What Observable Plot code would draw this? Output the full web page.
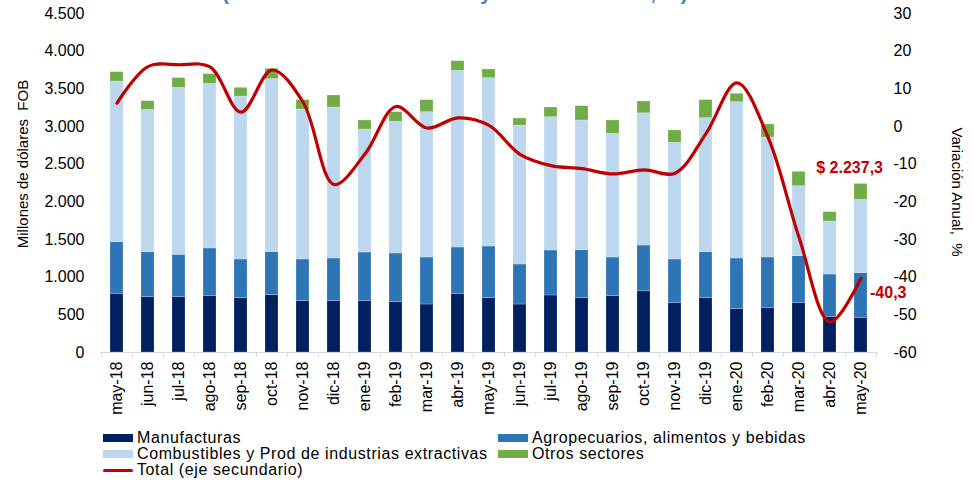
<!DOCTYPE html>
<html><head><meta charset="utf-8">
<script src="https://cdn.jsdelivr.net/npm/d3@7"></script>
<script src="https://cdn.jsdelivr.net/npm/@observablehq/plot@0.6"></script>
<style>
body{margin:0;background:#fff;font-family:"Liberation Sans",Arial,sans-serif;overflow:hidden}
#wrap{position:relative;width:973px;height:481px;overflow:hidden}
#chart{position:absolute;left:0;top:0}
#title{position:absolute;left:222px;top:-18px;font-size:21px;line-height:21px;font-weight:bold;color:#4a7ebb;white-space:pre}
.axt{position:absolute;font-size:15px;line-height:15px;color:#000;white-space:pre}
#ylab{left:22px;top:164px;transform:translate(-50%,-50%) rotate(-90deg)}
#y2lab{left:957px;top:192px;transform:translate(-50%,-50%) rotate(90deg)}
#legend{position:absolute;left:103px;top:430px;display:grid;grid-template-columns:395px auto;font-size:16px;line-height:16px;letter-spacing:0.6px;color:#000}
.li{display:flex;align-items:center;white-space:nowrap;height:16px}
.sw{width:30px;height:8px;margin-right:4px;flex:none}
.ln{width:30px;height:3px;margin-right:4px;flex:none;border-radius:2px}
</style></head><body>
<div id="wrap">
 <div id="chart"></div>
 <div id="title">(Millones de dólares FOB y variación anual, %)</div>
 <div id="ylab" class="axt">Millones de dólares  FOB</div>
 <div id="y2lab" class="axt">Variación Anual,  %</div>
 <div id="legend"></div>
</div>
<script>
const months = ["may-18","jun-18","jul-18","ago-18","sep-18","oct-18","nov-18","dic-18","ene-19","feb-19","mar-19","abr-19","may-19","jun-19","jul-19","ago-19","sep-19","oct-19","nov-19","dic-19","ene-20","feb-20","mar-20","abr-20","may-20"];
const manufacturas = [779,735,735,748,721,761,681,681,681,668,637,779,721,637,757,721,748,812,655,721,575,593,655,469,460];
const agropecuarios = [686,597,562,633,514,571,554,567,647,646,624,615,686,531,597,637,513,608,580,611,673,668,624,566,593];
const combustibles = [2132,1889,2216,2186,2163,2297,1991,2004,1632,1748,1929,2345,2235,1845,1770,1722,1642,1755,1548,1779,2075,1593,929,704,974];
const otros = [124,115,129,128,115,137,124,160,120,128,160,128,115,93,128,190,177,157,164,239,111,173,190,124,210];
const variacion = [6.2,15.9,16.4,15.8,3.8,15.0,6.5,-15.4,-7.3,5.3,-0.4,2.3,0.3,-7.4,-10.4,-11.2,-12.6,-11.5,-12.4,-1.9,11.6,-2.8,-29.4,-51.9,-40.3];
const seriesNames = ["Manufacturas","Agropecuarios, alimentos y bebidas","Combustibles y Prod de industrias extractivas","Otros sectores"];
const seriesColors = ["#002060","#2E75B6","#BDD7EE","#70AD47"];
const lineName = "Total (eje secundario)";
const lineColor = "#C00000";
const leftTicks = [0,500,1000,1500,2000,2500,3000,3500,4000,4500];
const rightTicks = [-60,-50,-40,-30,-20,-10,0,10,20,30];
const totalLabel = "$ 2.237,3";
const varLabel = "-40,3";

const leftDomain = [0,4500], rightDomain = [-60,30];
const toPrimary = p => leftDomain[0] + (p - rightDomain[0]) / (rightDomain[1]-rightDomain[0]) * (leftDomain[1]-leftDomain[0]);
const fromPrimary = v => rightDomain[0] + (v - leftDomain[0]) / (leftDomain[1]-leftDomain[0]) * (rightDomain[1]-rightDomain[0]);
const fmtThousands = v => String(v).replace(/\B(?=(\d{3})+(?!\d))/g, ".");

const seriesValues = [manufacturas, agropecuarios, combustibles, otros];
const rows = seriesNames.flatMap((s,j)=> months.map((m,i)=>({month:m, series:s, value:seriesValues[j][i]})));
const totals = months.map((m,i)=> seriesValues.reduce((a,arr)=>a+arr[i],0));
const lineData = months.map((m,i)=>({month:m, v: toPrimary(variacion[i])}));
const last = months.length-1;

const W=973,H=425,ML=100,MR=95,MT=13,MB=73;
const step=(W-ML-MR)/months.length;

const plot = Plot.plot({
  width:W,height:H,marginLeft:ML,marginRight:MR,marginTop:MT,marginBottom:MB,
  style:{fontFamily:"Liberation Sans, Arial, sans-serif",fontSize:"16px",color:"#000",background:"#fff",overflow:"visible"},
  x:{type:"band",domain:months,paddingInner:0.58,paddingOuter:0.29,align:0.5},
  y:{domain:leftDomain},
  color:{domain:seriesNames,range:seriesColors},
  marks:[
    Plot.barY(rows,{x:"month",y:"value",fill:"series",stroke:"#fff",strokeOpacity:0.35,strokeWidth:0.6}),
    Plot.ruleY([0],{stroke:"#d9d9d9",strokeWidth:1}),
    Plot.ruleX(months,{x:d=>d,y1:0,y2:0,dx:-step/2,insetBottom:-5,stroke:"#d9d9d9"}),
    Plot.ruleX([months[last]],{x:d=>d,y1:0,y2:0,dx:step/2,insetBottom:-5,stroke:"#d9d9d9"}),
    Plot.line(lineData,{x:"month",y:"v",stroke:lineColor,strokeWidth:3.2,curve:"catmull-rom"}),
    Plot.axisX({tickSize:0,tickRotate:-90,tickPadding:9,label:null,fill:"#000"}),
    Plot.axisY({ticks:leftTicks,tickFormat:fmtThousands,tickSize:0,tickPadding:16,label:null,fill:"#000"}),
    Plot.axisY({anchor:"right",ticks:rightTicks.map(toPrimary),tickFormat:v=>String(Math.round(fromPrimary(v))),tickSize:0,tickPadding:15,label:null,fill:"#000"}),
    Plot.text([last],{x:i=>months[i],y:i=>totals[i],text:()=>totalLabel,dx:22,dy:-16,fill:lineColor,fontWeight:"bold",fontSize:16,textAnchor:"end"}),
    Plot.text([last],{x:i=>months[i],y:i=>toPrimary(variacion[i]),text:()=>varLabel,dx:9,dy:15,fill:lineColor,fontWeight:"bold",fontSize:16,textAnchor:"start"})
  ]
});
document.getElementById("chart").appendChild(plot);

const legend = document.getElementById("legend");
seriesNames.forEach((s,j)=>{
  const d=document.createElement("div");d.className="li";
  d.innerHTML=`<span class="sw" style="background:${seriesColors[j]}"></span><span>${s}</span>`;
  legend.appendChild(d);
});
const dl=document.createElement("div");dl.className="li";
dl.innerHTML=`<span class="ln" style="background:${lineColor}"></span><span>${lineName}</span>`;
legend.appendChild(dl);
</script>
</body></html>
